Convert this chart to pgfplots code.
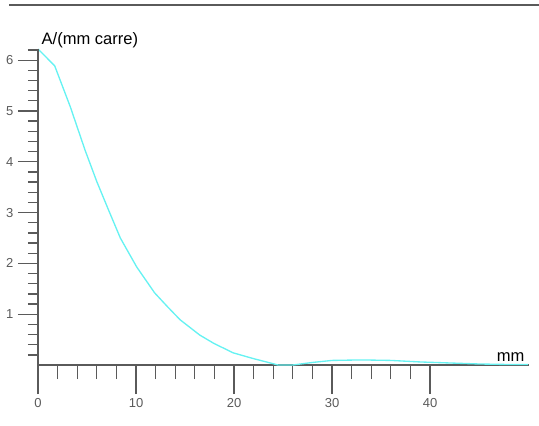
\documentclass[border=0pt]{standalone}
\usepackage{pgfplots}
\pgfplotsset{compat=1.18}
\usepackage{fontspec}
\setmainfont{Liberation Sans}
\definecolor{axgray}{HTML}{5A5A5A}
\definecolor{curve}{HTML}{66F2F2}

\pgfplotstableread{
x y
0 6.22
1.7 5.89
3.3 5.08
4.8 4.23
6.0 3.61
7.2 3.05
8.4 2.50
10.07 1.93
11.9 1.42
13.2 1.15
14.5 0.89
16.5 0.59
17.9 0.43
19.9 0.24
21.9 0.13
23.7 0.04
24.5 0.0
26 0.0
28 0.05
30 0.09
33 0.10
36 0.09
39 0.06
42 0.04
45 0.02
48 0.01
50 0.01
}\areadata

\begin{document}
\begin{tikzpicture}
\path[use as bounding box] (0,0) rectangle (404.25pt,318.75pt);
\draw[axgray, line width=1.4pt] (6.75pt,315pt) -- (404.25pt,315pt);
\pgfplotsset{
  base/.style={
    at={(28.5pt,45pt)}, anchor=south west,
    scale only axis, width=368.25pt, height=237pt,
    xmin=0, xmax=50.1, ymin=0, ymax=6.22,
    tick style={axgray, line width=1pt},
    ticklabel style={text=axgray, font=\fontsize{9.75}{11}\selectfont},
    /pgf/number format/assume math mode=true,
  }
}
% x axis with its ticks
\begin{axis}[base,
  axis x line=bottom, axis y line=none,
  x axis line style={-, axgray, line width=1.4pt},
  tick align=outside,
  xtick={0,10,...,40}, minor tick num=4,
  major tick length=21.75pt, minor tick length=10.5pt,
]
\addplot[curve, line width=1pt] table[x=x,y=y] {\areadata};
\end{axis}
% y axis with its ticks
\begin{axis}[base,
  axis x line=none, axis y line=left,
  y axis line style={-, axgray, line width=1.4pt},
  tick align=outside,
  ytick={1,2,...,6}, minor ytick={0.2,0.4,...,6.1},
  major tick length=15pt, minor tick length=7.5pt,
]
\end{axis}
\node[anchor=base west, font=\fontsize{12.4}{14}\selectfont] at (27.75pt,285pt) {A/(mm carre)};
\node[anchor=base east, font=\fontsize{12.4}{14}\selectfont] at (396.75pt,47.5pt) {mm};
\end{tikzpicture}
\end{document}
